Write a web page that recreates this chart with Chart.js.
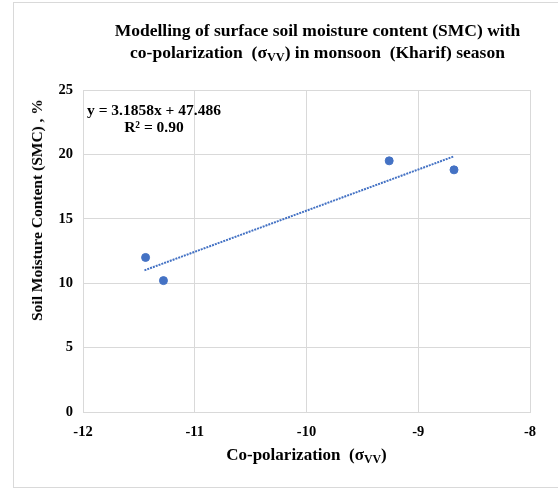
<!DOCTYPE html>
<html>
<head>
<meta charset="utf-8">
<script src="https://cdn.jsdelivr.net/npm/chart.js@4.4.0/dist/chart.umd.min.js"></script>
<style>
  html, body { margin: 0; padding: 0; background: #fff; }
  #wrap { position: relative; width: 558px; height: 490px; overflow: hidden; }
  #frame { position: absolute; left: 13px; top: 2px; width: 600px; height: 486px;
           border: 1px solid #d9d9d9; box-sizing: border-box; }
  canvas { position: absolute; left: 0; top: 0; }
  .txt { position: absolute; font-family: "Liberation Serif", "Times New Roman", serif;
         font-weight: bold; color: #000; white-space: nowrap; }
  .txt sub { font-size: 70%; vertical-align: -0.25em; line-height: 0; }
  #title { left: 94px; width: 447px; top: 19px; text-align: center; font-size: 17.5px; line-height: 22px; }
  #xtitle { left: 83px; width: 447px; top: 445px; text-align: center; font-size: 17px; }
  #ytitle { left: 37px; top: 210px; font-size: 15.5px; transform: translate(-50%, -50%) rotate(-90deg); }
  #eq { left: 87px; top: 101px; font-size: 15.5px; line-height: 17px; text-align: center; }
</style>
</head>
<body>
<div id="wrap">
  <div id="frame"></div>
  <canvas id="chart" width="558" height="490"></canvas>
  <div class="txt" id="title">Modelling of surface soil moisture content (SMC) with<br>co-polarization&nbsp; (σ<sub>VV</sub>) in monsoon&nbsp; (Kharif) season</div>
  <div class="txt" id="xtitle">Co-polarization&nbsp; (σ<sub>VV</sub>)</div>
  <div class="txt" id="ytitle">Soil Moisture Content (SMC) , %</div>
  <div class="txt" id="eq">y = 3.1858x + 47.486<br>R² = 0.90</div>
</div>
<script>
// observed points
const sigmaVV = [-11.44, -11.28, -9.26, -8.68];
const smc = [12.0, 10.2, 19.5, 18.8];

// linear trendline end points (as drawn)
const trendX = [-11.45, -8.68];
const trendY = [11.0, 19.85];

const xTicks = [-12, -11, -10, -9, -8];
const yTicks = [0, 5, 10, 15, 20, 25];

const blue = "#4472C4";
const grid = "#d9d9d9";
const tickFont = { family: "Liberation Serif", size: 14.5, weight: "bold" };

const ctx = document.getElementById("chart").getContext("2d");
new Chart(ctx, {
    type: "scatter",
    data: {
        datasets: [
            {
                label: "SMC",
                data: sigmaVV.map((x, i) => ({ x: x, y: smc[i] })),
                backgroundColor: blue,
                borderColor: blue,
                pointRadius: 4,
                pointHoverRadius: 4,
            },
            {
                label: "Linear",
                type: "line",
                data: trendX.map((x, i) => ({ x: x, y: trendY[i] })),
                borderColor: blue,
                borderWidth: 2,
                borderDash: [2, 1],
                pointRadius: 0,
                fill: false,
            },
        ],
    },
    options: {
        responsive: false,
        animation: false,
        layout: { padding: { top: 90, right: 28, left: 0, bottom: 0 } },
        plugins: {
            legend: { display: false },
            tooltip: { enabled: false },
        },
        scales: {
            x: {
                type: "linear",
                min: -12,
                max: -8,
                afterBuildTicks: (s) => { s.ticks = xTicks.map((v) => ({ value: v })); },
                afterFit: (s) => { s.height = 78; },
                grid: { color: grid, drawTicks: false },
                border: { color: grid },
                ticks: { color: "#000", font: tickFont, padding: 12, maxRotation: 0 },
            },
            y: {
                min: 0,
                max: 25,
                afterBuildTicks: (s) => { s.ticks = yTicks.map((v) => ({ value: v })); },
                afterFit: (s) => { s.width = 83; },
                grid: { color: grid, drawTicks: false },
                border: { display: false },
                ticks: { color: "#000", font: tickFont, padding: 10 },
            },
        },
    },
});
</script>
</body>
</html>
